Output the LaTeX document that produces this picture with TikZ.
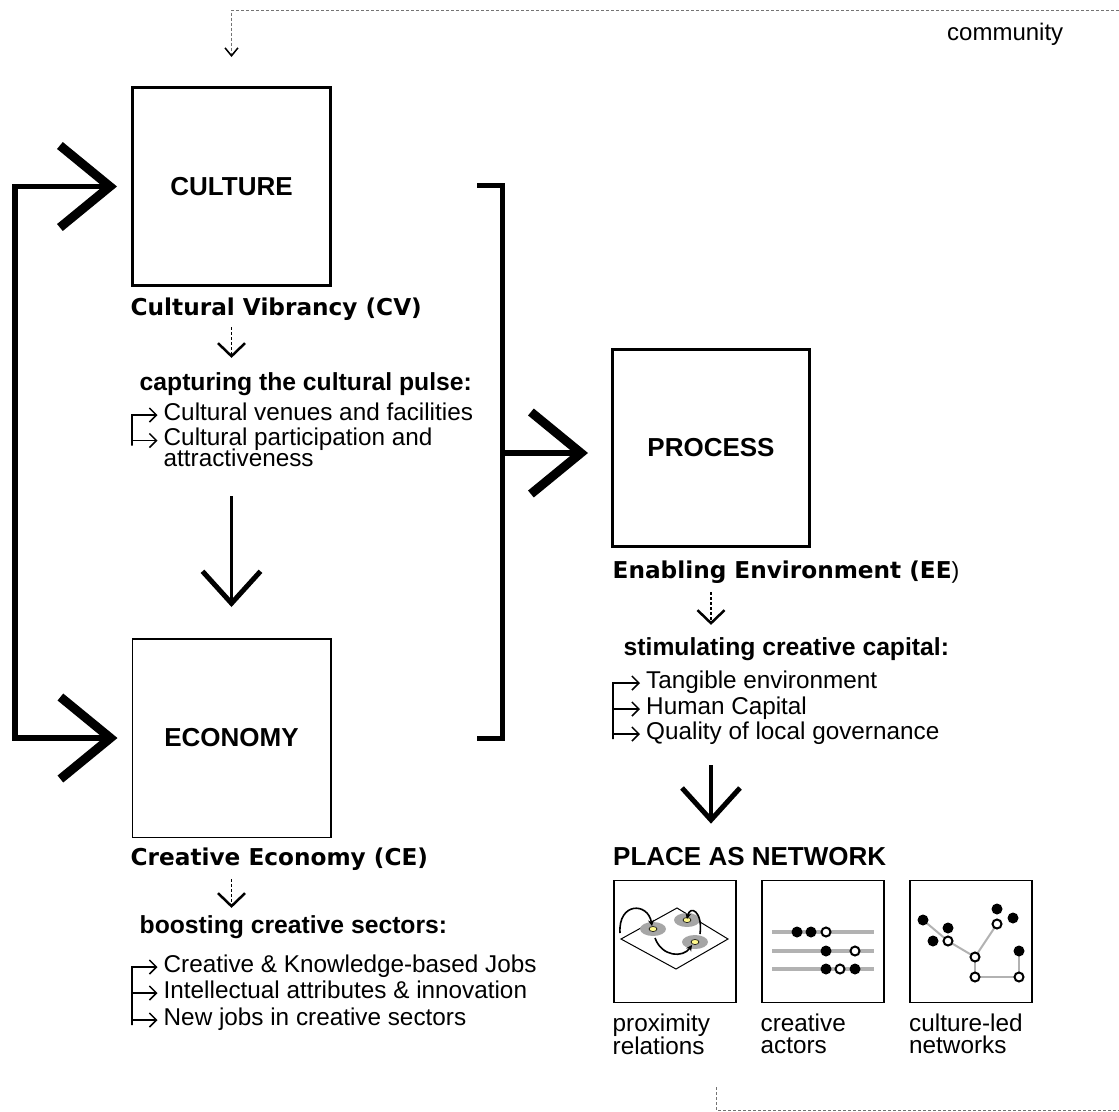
\documentclass[tikz,border=0pt]{standalone}
\usepackage{fontspec}
\setmainfont{Liberation Sans}
\newfontfamily\headfont{DejaVu Sans}
\usetikzlibrary{arrows.meta,positioning}

\begin{document}
\begin{tikzpicture}[x=1pt,y=-1pt]
	\tikzstyle{every node}=[inner sep=0pt]
	\tikzstyle{bigbox}=[draw, rectangle, minimum size=198pt, font=\fontsize{26}{28}\selectfont\bfseries]
	\tikzstyle{iconbox}=[draw, rectangle, line width=1.3pt, minimum size=122pt]
	\tikzstyle{head}=[anchor=base west, font=\headfont\bfseries\fontsize{23.2}{26}\selectfont]
	\tikzstyle{subhead}=[anchor=base west, font=\bfseries\fontsize{24.7}{27}\selectfont]
	\tikzstyle{listitem}=[anchor=base west, font=\fontsize{24.3}{22}\selectfont]
	\tikzstyle{listbar}=[line width=1.5pt, line join=miter, {Straight Barb[length=7pt,width=14pt]}-{Straight Barb[length=7pt,width=14pt]}]
	\tikzstyle{listtick}=[line width=1.5pt, -{Straight Barb[length=7pt,width=14pt]}]
	\tikzstyle{bigarrow}=[line width=5.5pt, line join=miter, -{Straight Barb[length=50pt,width=82pt,line width=9pt]}]
	\tikzstyle{downarrow}=[line width=3.5pt, -{Straight Barb[length=32pt,width=58pt,line width=5pt]}]
	\tikzstyle{dotarrow}=[line width=1.5pt, dash pattern=on 2.5pt off 2.5pt, -{Straight Barb[length=13pt,width=27pt,line width=2.5pt]}]
	\tikzstyle{commline}=[line width=1pt, black!55, dash pattern=on 3pt off 2pt]

	\useasboundingbox (0,0) rectangle (1119,1111);

	\node[bigbox, line width=3pt] (culture) at (231.5,186.5) {CULTURE};
	\node[bigbox, line width=1.5pt, minimum size=198.5pt] (economy) at (231.5,738) {ECONOMY};
	\node[bigbox, line width=3pt, minimum size=197pt] (process) at (711,447.5) {PROCESS};

	\node[head] (cvhead) at (130.5,315) {Cultural Vibrancy (CV)};
	\node[subhead] (cvsub) at (139.5,390) {capturing the cultural pulse:};
	\node[listitem] (cv1) at (163.5,420) {Cultural venues and facilities};
	\node[listitem] (cv2) at (163.5,445.5) {Cultural participation and};
	\node[listitem] (cv3) at (163.5,466) {attractiveness};

	\node[head] (cehead) at (130.5,865) {Creative Economy (CE)};
	\node[subhead] (cesub) at (139.5,933) {boosting creative sectors:};
	\node[listitem] (ce1) at (163.5,972) {Creative \& Knowledge-based Jobs};
	\node[listitem] (ce2) at (163.5,998) {Intellectual attributes \& innovation};
	\node[listitem] (ce3) at (163.5,1025) {New jobs in creative sectors};

	\node[head] (eehead) at (612.5,578) {Enabling Environment (EE{\normalfont )}};
	\node[subhead] (eesub) at (623.5,655) {stimulating creative capital:};
	\node[listitem] (ee1) at (646,688) {Tangible environment};
	\node[listitem] (ee2) at (646,714) {Human Capital};
	\node[listitem] (ee3) at (646,739) {Quality of local governance};

	\node[anchor=base west, font=\bfseries\fontsize{26}{28}\selectfont] (place) at (613,865) {PLACE AS NETWORK};
	\node[iconbox] (prox) at (675,941.5) {};
	\node[iconbox] (actors) at (823,941.5) {};
	\node[iconbox] (netw) at (971,941.5) {};
	\node[listitem, text width=130pt, align=left] (proxlabel) at (612.5,1031) {proximity\\relations};
	\node[listitem, text width=130pt, align=left] (actorslabel) at (760.5,1031) {creative\\actors};
	\node[listitem, text width=130pt, align=left] (netwlabel) at (909,1031) {culture-led\\networks};

	\node[anchor=base west, font=\fontsize{24}{26}\selectfont] (comm) at (947,40) {community};

	\coordinate (commstart) at (1119,10);
	\coordinate (botstart) at (716,1087);
	\coordinate (botend) at (1119,1110);
	\draw[commline, -{Straight Barb[length=8pt,width=13pt,line width=1.5pt,black]}, shorten >=29pt] (commstart) -| (culture.north);
	\draw[commline] (botstart) |- (botend);

	\coordinate (loopmid) at (15,462);
	\draw[bigarrow, shorten >=14pt] (loopmid) |- (culture);
	\draw[bigarrow, shorten >=14pt] (loopmid) |- (economy);

	\coordinate (brtop) at (477,185);
	\coordinate (brbot) at (477,738);
	\coordinate (brmid) at (502,453);
	\draw[line width=5pt, line join=miter] (brtop) -| (brbot -| brmid) -- (brbot);
	\draw[bigarrow, shorten >=23pt] (brmid) -- (brmid -| process.west);

	\draw[downarrow, shorten <=30pt, shorten >=31pt] (cv3.south -| culture) -- (economy);
	\draw[downarrow, shorten <=21pt, shorten >=23pt] (ee3.south -| process) -- (process |- place.north);

	\draw[dotarrow, shorten <=7pt, shorten >=14pt] (cvhead.south -| culture) -- (cvsub.north -| culture);
	\draw[dotarrow, shorten <=9pt, shorten >=7pt] (cehead.south -| economy) -- (cesub.north -| economy);
	\draw[dotarrow, shorten <=9pt, shorten >=12pt] (eehead.south -| process) -- (eesub.north -| process);

	\coordinate (cvbar) at (132,0);
	\draw[listbar] ([xshift=-6pt,yshift=5pt]cv1.base west) -| (cvbar |- cv2.base) |- ([xshift=-6pt,yshift=5pt]cv2.base west);
	\coordinate (cebar) at (132,0);
	\draw[listbar] ([xshift=-6pt,yshift=5pt]ce1.base west) -| (cebar |- ce3.base) |- ([xshift=-6pt,yshift=5pt]ce3.base west);
	\draw[listtick] ([yshift=5pt]cebar |- ce2.base) -- ([xshift=-6pt,yshift=5pt]ce2.base west);
	\coordinate (eebar) at (613,0);
	\draw[listbar] ([xshift=-6pt,yshift=5pt]ee1.base west) -| (eebar |- ee3.base) |- ([xshift=-6pt,yshift=5pt]ee3.base west);
	\draw[listtick] ([yshift=5pt]eebar |- ee2.base) -- ([xshift=-6pt,yshift=5pt]ee2.base west);

	\draw[line width=1pt] (621,939) -- (677,908) -- (728,939) -- (676,969) -- cycle;
	\foreach \x/\y in {653/929, 687/920, 695/942} {
		\fill[black!35] (\x,\y) ellipse (13 and 7);
		\filldraw[fill=yellow!45, draw=black, line width=0.6pt] (\x,\y) ellipse (4 and 2.5);
	}
	\draw[line width=1.6pt, -{Stealth[length=6pt,width=6pt]}] (620,933) .. controls (618,902) and (648,902) .. (652,926);
	\draw[line width=1.6pt, -{Stealth[length=6pt,width=6pt]}] (655,938) .. controls (662,957) and (683,958) .. (692,945);
	\draw[line width=1.6pt, -{Stealth[length=6pt,width=6pt]}] (700,934) .. controls (703,911) and (690,905) .. (687,919);

	\foreach \y in {932,951,969}
		\draw[black!30, line width=4pt] (772,\y) -- (874,\y);
	\foreach \x/\y in {797/932, 811/932, 826/951, 826/969, 855/969}
		\fill (\x,\y) circle (5.5);
	\foreach \x/\y in {826/932, 855/951, 840/969}
		\draw[fill=white, line width=2pt] (\x,\y) circle (4.5);

	\draw[black!30, line width=2pt] (923,920) -- (948,941) -- (975,957) -- (997,924);
	\draw[black!30, line width=2pt] (975,957) -- (975,977) -- (1019,977) -- (1019,951);
	\foreach \x/\y in {923/920, 948/928, 933/941, 997/909, 1013/918, 1019/951}
		\fill (\x,\y) circle (5.5);
	\foreach \x/\y in {948/941, 975/957, 997/924, 975/977, 1019/977}
		\draw[fill=white, line width=2pt] (\x,\y) circle (4.5);
\end{tikzpicture}
\end{document}
